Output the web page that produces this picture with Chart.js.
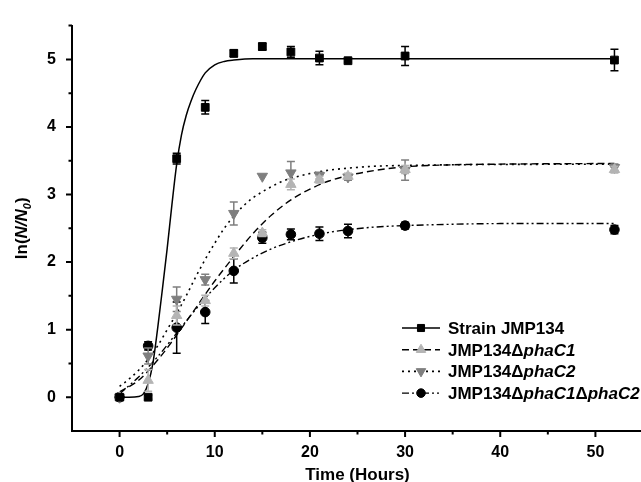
<!DOCTYPE html>
<html>
<head>
<meta charset="utf-8">
<script src="https://cdn.jsdelivr.net/npm/chart.js@4.4.1/dist/chart.umd.min.js"></script>
<style>
  html, body { margin: 0; padding: 0; background: #fff; overflow: hidden; }
  #wrap { width: 650px; height: 482px; }
</style>
</head>
<body>
<div id="wrap"><canvas id="growthChart" width="650" height="482"></canvas></div>
<script>
const FONT = "'Liberation Sans', Arial, sans-serif";

// sampling times (hours)
const hours = [0, 3, 6, 9, 12, 15, 18, 21, 24, 30, 52];

const strainVals  = [0, 0, 3.53, 4.29, 5.09, 5.19, 5.11, 5.02, 4.98, 5.05, 4.99];
const strainErr   = [0.03, 0.03, 0.08, 0.1, 0.05, 0.05, 0.08, 0.1, 0.02, 0.14, 0.16];
const phaC1Vals   = [0, 0.25, 1.21, 1.43, 2.13, 2.43, 3.15, 3.22, 3.27, 3.37, 3.37];
const phaC1Err    = [0.03, 0.16, 0.14, 0.08, 0.08, 0.05, 0.08, 0.05, 0.04, 0.06, 0.05];
const phaC2Vals   = [0, 0.61, 1.45, 1.74, 2.72, 3.27, 3.32, 3.28, 3.26, 3.36, 3.4];
const phaC2Err    = [0.03, 0.12, 0.18, 0.08, 0.17, 0, 0.17, 0.05, 0.05, 0.15, 0.05];
const doubleVals  = [0, 0.76, 1.03, 1.26, 1.87, 2.36, 2.41, 2.42, 2.46, 2.54, 2.48];
const doubleErr   = [0.03, 0.06, 0.38, 0.17, 0.18, 0.08, 0.08, 0.1, 0.1, 0.05, 0.06];

// fitted curves
const strainFitX = [0, 1, 2, 2.5, 3, 3.5, 4, 4.5, 5, 5.5, 6, 6.5, 7, 7.5, 8, 9, 10, 11, 12, 14, 20, 52];
const strainFitY = [0, 0, 0.01, 0.05, 0.2, 0.5, 1.02, 1.6, 2.2, 2.85, 3.45, 3.88, 4.17, 4.38, 4.55, 4.8, 4.92, 4.97, 4.99, 5.01, 5.01, 5.01];
const phaC1FitX = [0, 2, 4, 6, 8, 10, 12, 14, 16, 18, 20, 22, 24, 27, 30, 35, 40, 52];
const phaC1FitY = [0.08, 0.25, 0.55, 0.92, 1.32, 1.72, 2.08, 2.42, 2.7, 2.92, 3.08, 3.2, 3.28, 3.36, 3.41, 3.44, 3.45, 3.46];
const phaC2FitX = [0, 1, 2, 3, 4, 5, 6, 7, 8, 9, 10, 11, 12, 13, 14, 15, 16, 17, 18, 20, 22, 24, 27, 30, 35, 52];
const phaC2FitY = [0.16, 0.27, 0.4, 0.56, 0.76, 1.0, 1.24, 1.5, 1.78, 2.04, 2.28, 2.5, 2.68, 2.83, 2.95, 3.04, 3.12, 3.19, 3.24, 3.31, 3.36, 3.39, 3.42, 3.43, 3.44, 3.45];
const doubleFitX = [0, 2, 4, 6, 8, 10, 12, 14, 16, 18, 20, 22, 24, 27, 30, 35, 40, 52];
const doubleFitY = [0.05, 0.3, 0.6, 0.95, 1.3, 1.62, 1.88, 2.06, 2.2, 2.3, 2.38, 2.44, 2.48, 2.52, 2.54, 2.56, 2.57, 2.57];

// tick labels
const xTicks = [0, 10, 20, 30, 40, 50];
const yTicks = [0, 1, 2, 3, 4, 5];

// legend labels: [text, italic]
const seriesLabels = [
  [['Strain JMP134', false]],
  [['JMP134\u0394', false], ['phaC1', true]],
  [['JMP134\u0394', false], ['phaC2', true]],
  [['JMP134\u0394', false], ['phaC1', true], ['\u0394', false], ['phaC2', true]]
];

const toPts = (xs, ys) => xs.map((v, i) => ({ x: v, y: ys[i] }));

function fitSet(xs, ys, dash, width) {
  return {
    data: toPts(xs, ys), showLine: true, pointRadius: 0,
    borderColor: '#000', borderWidth: width, borderDash: dash,
    cubicInterpolationMode: 'monotone', order: 1
  };
}
function pointSet(vals, errs, color, style, rot, r) {
  return {
    data: toPts(hours, vals), errors: errs, showLine: false,
    pointStyle: style, pointRotation: rot, pointRadius: r,
    backgroundColor: color, borderColor: color, borderWidth: 1, order: 0
  };
}

const fits = [
  fitSet(strainFitX, strainFitY, [], 1.5),
  fitSet(phaC1FitX, phaC1FitY, [7, 4], 1.4),
  fitSet(phaC2FitX, phaC2FitY, [2, 4], 1.6),
  fitSet(doubleFitX, doubleFitY, [7, 3, 2, 3, 2, 3], 1.4)
];
const marks = [
  pointSet(strainVals, strainErr, '#000000', 'rect', 0, 5.5),
  pointSet(phaC1Vals, phaC1Err, '#b4b4b4', 'triangle', 0, 6),
  pointSet(phaC2Vals, phaC2Err, '#7f7f7f', 'triangle', 180, 6),
  pointSet(doubleVals, doubleErr, '#000000', 'circle', 0, 4.8)
];

// error bars drawn right after each marker set
const errorBars = {
  id: 'errorBars',
  afterDatasetDraw(chart, args) {
    const ds = chart.data.datasets[args.index];
    if (!ds.errors) return;
    const { ctx, scales: { x, y } } = chart;
    ctx.save();
    ctx.strokeStyle = ds.borderColor;
    ctx.lineWidth = 1.5;
    ds.data.forEach((p, i) => {
      const e = ds.errors[i];
      if (!e) return;
      const px = x.getPixelForValue(p.x);
      const top = y.getPixelForValue(p.y + e);
      const bot = y.getPixelForValue(p.y - e);
      ctx.beginPath();
      ctx.moveTo(px, top); ctx.lineTo(px, bot);
      ctx.moveTo(px - 4, top); ctx.lineTo(px + 4, top);
      ctx.moveTo(px - 4, bot); ctx.lineTo(px + 4, bot);
      ctx.stroke();
    });
    ctx.restore();
  }
};

// outward major + minor ticks
const axisTicks = {
  id: 'axisTicks',
  afterDraw(chart) {
    const { ctx, chartArea: a, scales: { x, y } } = chart;
    ctx.save();
    ctx.strokeStyle = '#000';
    ctx.lineWidth = 2;
    ctx.beginPath();
    xTicks.forEach(v => {
      let px = x.getPixelForValue(v);
      ctx.moveTo(px, a.bottom); ctx.lineTo(px, a.bottom + 6);
      px = x.getPixelForValue(v + 5);
      ctx.moveTo(px, a.bottom); ctx.lineTo(px, a.bottom + 3.5);
    });
    yTicks.forEach(v => {
      let py = y.getPixelForValue(v);
      ctx.moveTo(a.left, py); ctx.lineTo(a.left - 6, py);
      py = y.getPixelForValue(v + 0.5);
      ctx.moveTo(a.left, py); ctx.lineTo(a.left - 3.5, py);
    });
    ctx.stroke();
    ctx.restore();
  }
};

function drawParts(ctx, parts, x, y, size) {
  parts.forEach(([t, it]) => {
    ctx.font = (it ? 'italic ' : '') + 'bold ' + size + 'px ' + FONT;
    ctx.fillText(t, x, y);
    x += ctx.measureText(t).width;
  });
  return x;
}

// y axis title + legend
const extras = {
  id: 'extras',
  afterDraw(chart) {
    const { ctx, chartArea: a } = chart;
    ctx.save();
    ctx.fillStyle = '#000';
    ctx.textBaseline = 'alphabetic';

    // rotated y title ln(N/N0)
    const segs = [['ln(', false, 17, 0], ['N/N', true, 17, 0], ['0', true, 11, 4], [')', false, 17, 0]];
    let w = 0;
    segs.forEach(([t, it, s]) => {
      ctx.font = (it ? 'italic ' : '') + 'bold ' + s + 'px ' + FONT;
      w += ctx.measureText(t).width;
    });
    ctx.translate(15, (a.top + a.bottom) / 2);
    ctx.rotate(-Math.PI / 2);
    let cx = -w / 2;
    segs.forEach(([t, it, s, dy]) => {
      ctx.font = (it ? 'italic ' : '') + 'bold ' + s + 'px ' + FONT;
      ctx.fillText(t, cx, 12 + dy);
      cx += ctx.measureText(t).width;
    });
    ctx.setTransform(1, 0, 0, 1, 0, 0);

    // legend
    const lx = 402, ly = 328, step = 21.7;
    seriesLabels.forEach((parts, i) => {
      const f = fits[i], m = marks[i];
      const yy = ly + i * step;
      ctx.strokeStyle = '#000';
      ctx.lineWidth = f.borderWidth;
      ctx.setLineDash(f.borderDash);
      ctx.beginPath();
      ctx.moveTo(lx, yy); ctx.lineTo(lx + 38, yy);
      ctx.stroke();
      ctx.setLineDash([]);
      ctx.fillStyle = m.backgroundColor;
      ctx.strokeStyle = m.borderColor;
      ctx.lineWidth = 1;
      Chart.helpers.drawPoint(ctx, {
        pointStyle: m.pointStyle, rotation: m.pointRotation,
        radius: m.pointRadius - 0.5, borderWidth: 1
      }, lx + 19, yy);
      ctx.fillStyle = '#000';
      drawParts(ctx, parts, lx + 46, yy + 6, 17);
    });
    ctx.restore();
  }
};

const tickFont = { family: FONT, size: 16, weight: 'bold' };

new Chart(document.getElementById('growthChart'), {
  type: 'scatter',
  data: { datasets: [...fits, ...marks] },
  options: {
    responsive: false,
    animation: false,
    devicePixelRatio: 1,
    layout: { padding: { top: 13, right: 2, left: 0, bottom: 0 } },
    plugins: { legend: { display: false }, tooltip: { enabled: false } },
    scales: {
      x: {
        type: 'linear', min: -5, max: 55,
        afterBuildTicks: s => { s.ticks = xTicks.map(v => ({ value: v })); },
        afterFit: s => { s.height = 51; },
        grid: { display: false, drawTicks: false },
        border: { display: true, color: '#000', width: 2 },
        ticks: { font: tickFont, color: '#000', padding: 12, maxRotation: 0 },
        title: { display: true, text: 'Time (Hours)', color: '#000',
                 font: { family: FONT, size: 17, weight: 'bold' }, padding: { top: 0, bottom: -4 } }
      },
      y: {
        type: 'linear', min: -0.5, max: 5.5,
        afterBuildTicks: s => { s.ticks = yTicks.map(v => ({ value: v })); },
        afterFit: s => { s.width = 72; },
        grid: { display: false, drawTicks: false },
        border: { display: true, color: '#000', width: 2 },
        ticks: { font: tickFont, color: '#000', padding: 16 }
      }
    }
  },
  plugins: [errorBars, axisTicks, extras]
});
</script>
</body>
</html>
